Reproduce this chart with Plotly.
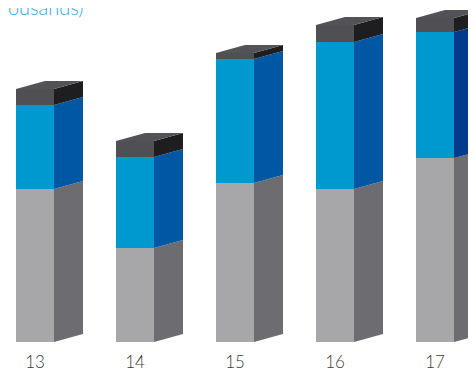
import plotly.graph_objects as go

categories = ["13", "14", "15", "16", "17"]
gray_vals = [153, 94, 159, 153, 184]
blue_vals = [84, 91, 124, 147, 126]
dark_vals = [16, 16, 6, 17, 14]

title_text = "Employees (thousands)"

# styles
front_colors = ["#A7A7A9", "#0099CF", "#4F4F54"]
side_colors = [["#6D6C71"] * 5, ["#0057A4"] * 4 + ["#003A8C"], ["#1E1E20"] * 5]
top_color = "#525257"
bar_w = 0.38
dx, dy = 0.29, 8

xs = list(range(len(categories)))
fig = go.Figure()

series = [gray_vals, blue_vals, dark_vals]
for s, vals in enumerate(series):
    fig.add_trace(go.Bar(x=xs, y=vals, width=bar_w, marker=dict(color=front_colors[s], line=dict(width=0)),
                         hoverinfo="skip", showlegend=False))

# side faces
for s, vals in enumerate(series):
    for i, x in enumerate(xs):
        base = sum(series[k][i] for k in range(s))
        top = base + vals[i]
        xr = x + bar_w / 2
        fig.add_trace(go.Scatter(
            x=[xr, xr + dx, xr + dx, xr, xr],
            y=[base, base + dy, top + dy, top, base],
            fill="toself", fillcolor=side_colors[s][i], mode="lines",
            line=dict(width=0, color=side_colors[s][i]), hoverinfo="skip", showlegend=False))

# top faces
for i, x in enumerate(xs):
    top = gray_vals[i] + blue_vals[i] + dark_vals[i]
    xl, xr = x - bar_w / 2, x + bar_w / 2
    fig.add_trace(go.Scatter(
        x=[xl, xl + dx, xr + dx, xr, xl],
        y=[top, top + dy, top + dy, top, top],
        fill="toself", fillcolor=top_color, mode="lines",
        line=dict(width=0, color=top_color), hoverinfo="skip", showlegend=False))

fig.add_annotation(text=title_text, xref="paper", yref="paper", x=78 / 476, y=1.0,
                   xanchor="right", yanchor="bottom", showarrow=False, yshift=-13,
                   font=dict(family="Lato", size=20, color="#2EA8E0", weight=300))

fig.update_layout(
    width=476, height=370, margin=dict(l=0, r=0, t=0, b=36),
    paper_bgcolor="white", plot_bgcolor="white", barmode="stack", bargap=0,
    xaxis=dict(range=[-0.27, 4.49], tickvals=xs, ticktext=categories, showgrid=False,
               zeroline=False, showline=False, ticks="", ticklabelstandoff=8,
               tickfont=dict(family="Lato", size=17, color="#3A3A3C", weight=300)),
    yaxis=dict(range=[0, 334], visible=False),
)

fig.write_html("out.html")
